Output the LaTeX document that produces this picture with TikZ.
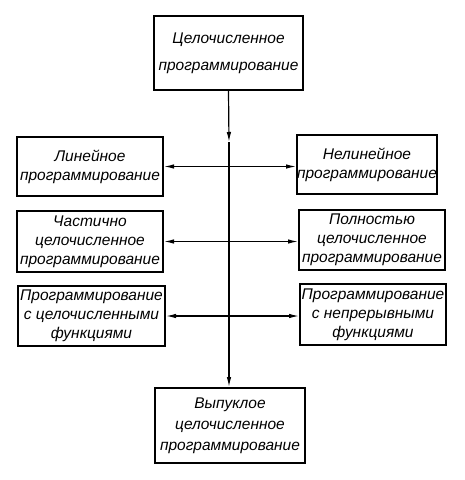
\documentclass[tikz,border=0pt]{standalone}
\usepackage{fontspec}
\setmainfont{Liberation Sans}
\usetikzlibrary{arrows.meta}
\tikzset{
  blok/.style={draw,line width=2pt,align=center,inner sep=0pt,
    font=\itshape\fontsize{15.5}{19}\selectfont},
  svyaz/.style={line width=1.2pt,{Latex[length=10pt,width=4.5pt]}-{Latex[length=10pt,width=4.5pt]}},
  strelka/.style={line width=1.2pt,-{Latex[length=10pt,width=4.5pt]}}
}
\begin{document}
\begin{tikzpicture}[x=1pt,y=-1pt]
\useasboundingbox (0,0) rectangle (465,480);
\node [blok,minimum width=149pt,minimum height=74pt,font=\itshape\fontsize{15.5}{27}\selectfont] (cel) at (228.5,53) {Целочисленное\\программирование};
\node [blok,minimum width=146pt,minimum height=59pt] (lin) at (90,166.5) {Линейное\\программирование};
\node [blok,minimum width=138pt,minimum height=59pt] (nelin) at (367,164.5) {Нелинейное\\программирование};
\node [blok,minimum width=146pt,minimum height=61pt] (chast) at (90,241.5) {Частично\\целочисленное\\программирование};
\node [blok,minimum width=146pt,minimum height=60pt] (poln) at (372,240) {Полностью\\целочисленное\\программирование};
\node [blok,minimum width=147pt,minimum height=60pt] (celf) at (91.5,316) {Программирование\\с целочисленными\\функциями};
\node [blok,minimum width=146pt,minimum height=61pt] (nepr) at (373,314.5) {Программирование\\с непрерывными\\функциями};
\node [blok,minimum width=150pt,minimum height=75pt,font=\itshape\fontsize{15.5}{21}\selectfont] (vyp) at (230,425.5) {Выпуклое\\целочисленное\\программирование};
% vertikal
\coordinate (m) at (229,142);
\draw [strelka] (cel.south) -- (m);
\draw [strelka] (m) -- (m |- vyp.north);
% gorizontal
\draw [svyaz] (lin.east) -- (lin.east -| nelin.west);
\draw [svyaz] (chast.east) -- (chast.east -| poln.west);
\draw [svyaz] (celf.east) -- (celf.east -| nepr.west);
\end{tikzpicture}
\end{document}
